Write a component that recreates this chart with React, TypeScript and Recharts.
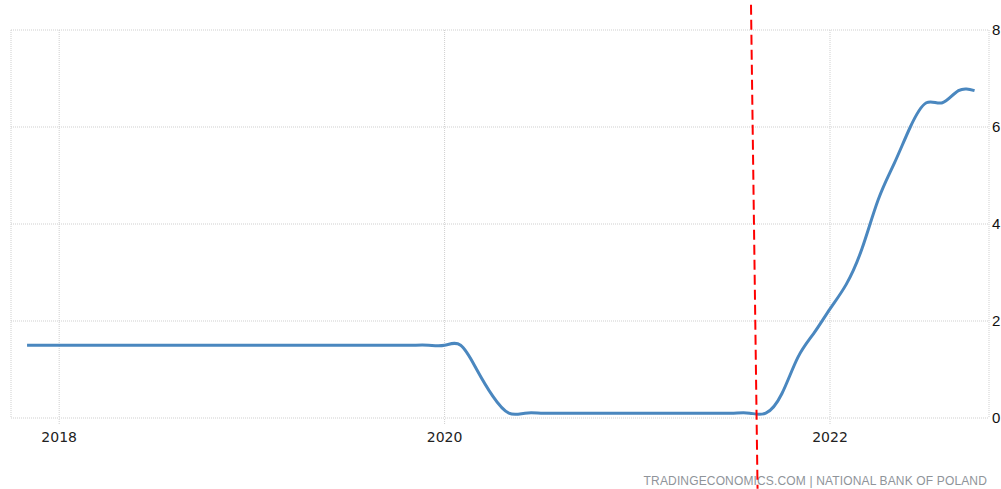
import {
  LineChart,
  Line,
  XAxis,
  YAxis,
  CartesianGrid,
  ReferenceLine,
} from "recharts";

// monthly observations, Nov 2017 .. Oct 2022
const months = [
  "2017-11", "2017-12",
  "2018-01", "2018-02", "2018-03", "2018-04", "2018-05", "2018-06",
  "2018-07", "2018-08", "2018-09", "2018-10", "2018-11", "2018-12",
  "2019-01", "2019-02", "2019-03", "2019-04", "2019-05", "2019-06",
  "2019-07", "2019-08", "2019-09", "2019-10", "2019-11", "2019-12",
  "2020-01", "2020-02", "2020-03", "2020-04", "2020-05", "2020-06",
  "2020-07", "2020-08", "2020-09", "2020-10", "2020-11", "2020-12",
  "2021-01", "2021-02", "2021-03", "2021-04", "2021-05", "2021-06",
  "2021-07", "2021-08", "2021-09", "2021-10", "2021-11", "2021-12",
  "2022-01", "2022-02", "2022-03", "2022-04", "2022-05", "2022-06",
  "2022-07", "2022-08", "2022-09", "2022-10",
];

const rates = [
  1.5, 1.5,
  1.5, 1.5, 1.5, 1.5, 1.5, 1.5, 1.5, 1.5, 1.5, 1.5, 1.5, 1.5,
  1.5, 1.5, 1.5, 1.5, 1.5, 1.5, 1.5, 1.5, 1.5, 1.5, 1.5, 1.5,
  1.5, 1.5, 1.0, 0.45, 0.1, 0.1, 0.1, 0.1, 0.1, 0.1, 0.1, 0.1,
  0.1, 0.1, 0.1, 0.1, 0.1, 0.1, 0.1, 0.1, 0.1, 0.5, 1.25, 1.75,
  2.25, 2.75, 3.5, 4.5, 5.25, 6.0, 6.5, 6.5, 6.75, 6.75,
];

const xTicks = [2018, 2020, 2022];
const yTicks = [0, 2, 4, 6, 8];

// dashed marker (slightly slanted in the original)
const markerTop = { x: 2021.59, y: 8.52 };
const markerBottom = { x: 2021.624, y: -1.46 };

const sourceText = "TRADINGECONOMICS.COM | NATIONAL BANK OF POLAND";

const toYear = (m: string) => {
  const [y, mo] = m.split("-").map(Number);
  return y + (mo - 1) / 12;
};

const data = months.map((m, i) => ({ t: toYear(m), rate: rates[i] }));

export default function App() {
  return (
    <div
      style={{
        position: "absolute",
        left: 0,
        top: 0,
        width: 1001,
        height: 489,
        background: "#fff",
      }}
    >
      <div
        style={{
          position: "absolute",
          right: 14,
          top: 475,
          fontFamily: "Liberation Sans, Arial, sans-serif",
          fontSize: 12,
          lineHeight: "12px",
          letterSpacing: 0.15,
          color: "#8f949a",
          whiteSpace: "nowrap",
        }}
      >
        {sourceText}
      </div>
      <div style={{ position: "absolute", left: 0, top: 0 }}>
        <LineChart
          width={1001}
          height={489}
          data={data}
          margin={{ top: 30, right: 0, bottom: 0, left: 11 }}
        >
          <CartesianGrid stroke="#cfcfcf" strokeDasharray="1 1" />
          <XAxis
            dataKey="t"
            type="number"
            domain={[2017.75, 2022.825]}
            ticks={xTicks}
            height={71}
            axisLine={false}
            tickLine={{ stroke: "#cfcfcf", strokeDasharray: "1 1" }}
            tickSize={6}
            tickMargin={8}
            tick={{ fill: "#222", fontSize: 14, fontFamily: "DejaVu Sans" }}
          />
          <YAxis
            orientation="right"
            domain={[0, 8]}
            ticks={yTicks}
            width={12}
            axisLine={false}
            tickLine={false}
            tickSize={0}
            tickMargin={3}
            tick={{ fill: "#111", fontSize: 15, fontFamily: "Liberation Sans" }}
          />
          <Line
            type="natural"
            dataKey="rate"
            stroke="#4a87bf"
            strokeWidth={3}
            dot={false}
            isAnimationActive={false}
          />
          <ReferenceLine
            segment={[markerTop, markerBottom]}
            stroke="#ff0000"
            strokeWidth={2}
            strokeDasharray="10 5"
            ifOverflow="visible"
          />
        </LineChart>
      </div>
    </div>
  );
}
